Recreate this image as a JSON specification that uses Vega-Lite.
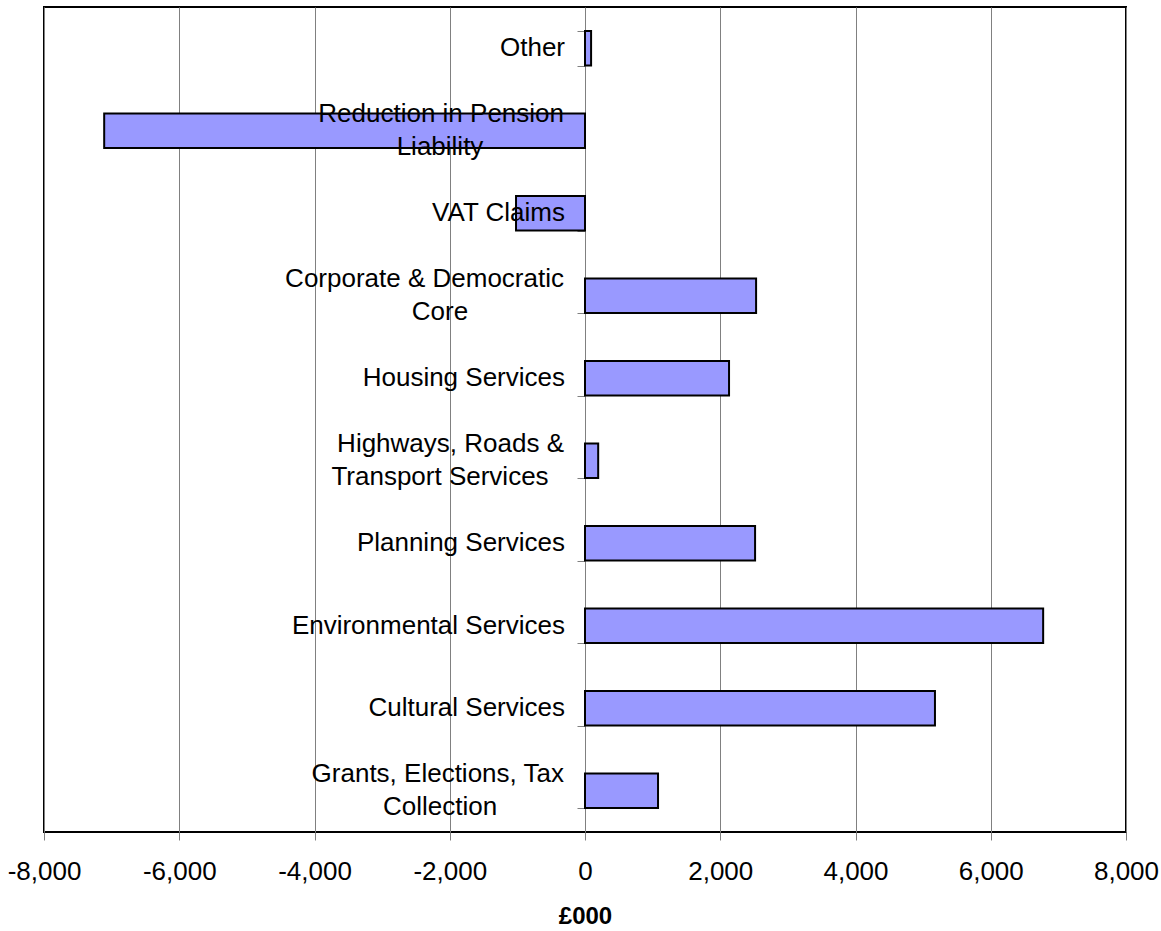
{
  "$schema": "https://vega.github.io/schema/vega-lite/v6.json",
  "width": 1082,
  "height": 825,
  "autosize": {"type": "none"},
  "padding": {"left": 44, "top": 7, "right": 35, "bottom": 99},
  "background": "white",
  "config": {
    "view": {"stroke": "black", "strokeWidth": 2},
    "font": "Liberation Sans"
  },
  "data": {
    "values": [
      {"category": "Other", "line1": "Other", "line2": null, "value": 90},
      {"category": "Reduction in Pension Liability", "line1": "Reduction in Pension", "line2": "Liability", "value": -7110},
      {"category": "VAT Claims", "line1": "VAT Claims", "line2": null, "value": -1020},
      {"category": "Corporate & Democratic Core", "line1": "Corporate & Democratic", "line2": "Core", "value": 2530},
      {"category": "Housing Services", "line1": "Housing Services", "line2": null, "value": 2130},
      {"category": "Highways, Roads & Transport Services", "line1": "Highways, Roads &", "line2": "Transport Services", "value": 195},
      {"category": "Planning Services", "line1": "Planning Services", "line2": null, "value": 2515},
      {"category": "Environmental Services", "line1": "Environmental Services", "line2": null, "value": 6775},
      {"category": "Cultural Services", "line1": "Cultural Services", "line2": null, "value": 5175},
      {"category": "Grants, Elections, Tax Collection", "line1": "Grants, Elections, Tax", "line2": "Collection", "value": 1080}
    ]
  },
  "encoding": {
    "y": {
      "field": "category",
      "type": "nominal",
      "sort": null,
      "scale": {"paddingInner": 0.58, "paddingOuter": 0.29},
      "axis": {
        "orient": "left",
        "offset": -541,
        "labels": false,
        "domain": false,
        "ticks": true,
        "tickBand": "extent",
        "tickSize": 8,
        "tickColor": "#808080",
        "title": null,
        "grid": false
      }
    }
  },
  "layer": [
    {
      "mark": {"type": "bar", "fill": "#9999FF", "stroke": "black", "strokeWidth": 2},
      "encoding": {
        "x": {
          "field": "value",
          "type": "quantitative",
          "scale": {"domain": [-8000, 8000], "nice": false, "zero": false},
          "axis": {
            "values": [-8000, -6000, -4000, -2000, 0, 2000, 4000, 6000, 8000],
            "labelExpr": "replace(format(datum.value, ',.0f'), '−', '-')",
            "labelFlush": false,
            "labelOverlap": false,
            "labelBound": false,
            "grid": true,
            "gridColor": "#808080",
            "gridWidth": 1,
            "domain": false,
            "tickColor": "#808080",
            "tickSize": 8,
            "labelFont": "Liberation Sans",
            "labelFontSize": 26,
            "labelColor": "black",
            "labelPadding": 18,
            "title": "£000",
            "titleFont": "Liberation Sans",
            "titleFontSize": 24,
            "titleFontWeight": "bold",
            "titleColor": "black",
            "titlePadding": 20
          }
        }
      }
    },
    {
      "transform": [{"filter": "datum.line2 == null"}],
      "mark": {"type": "text", "align": "right", "baseline": "middle", "dx": -20, "fontSize": 26, "color": "black"},
      "encoding": {
        "x": {"datum": 0},
        "text": {"field": "line1"}
      }
    },
    {
      "transform": [{"filter": "datum.line2 != null"}],
      "mark": {"type": "text", "align": "right", "baseline": "middle", "dx": -21, "dy": -16.5, "fontSize": 26, "color": "black"},
      "encoding": {
        "x": {"datum": 0},
        "text": {"field": "line1"}
      }
    },
    {
      "transform": [{"filter": "datum.line2 != null"}],
      "mark": {"type": "text", "align": "center", "baseline": "middle", "dx": -145, "dy": 16.5, "fontSize": 26, "color": "black"},
      "encoding": {
        "x": {"datum": 0},
        "text": {"field": "line2"}
      }
    }
  ]
}
